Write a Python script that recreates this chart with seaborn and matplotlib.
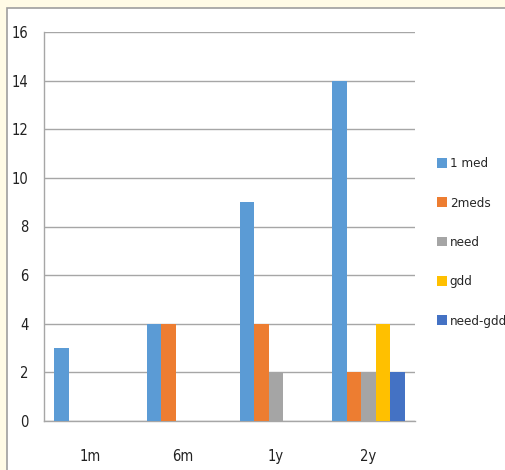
import numpy as np
import pandas as pd
import seaborn as sns
import matplotlib
matplotlib.use("Agg")
import matplotlib.pyplot as plt
from matplotlib.patches import Rectangle, Patch

categories = ["1m", "6m", "1y", "2y"]
series_names = ["1 med", "2meds", "need", "gdd", "need-gdd"]
one_med = [3, 4, 9, 14]
two_meds = [0, 4, 4, 2]
need = [0, 0, 2, 2]
gdd = [0, 0, 0, 4]
need_gdd = [0, 0, 0, 2]
yticks = [0, 2, 4, 6, 8, 10, 12, 14, 16]

colors = ["#5B9BD5", "#ED7D31", "#A5A5A5", "#FFC000", "#4472C4"]

rows = []
for name, vals in zip(series_names, [one_med, two_meds, need, gdd, need_gdd]):
    for cat, v in zip(categories, vals):
        rows.append({"period": cat, "group": name, "count": v})
df = pd.DataFrame(rows)

sns.set_style("white")
plt.rcParams["font.family"] = ["Liberation Sans Narrow", "DejaVu Sans"]
plt.rcParams["font.stretch"] = "condensed"

W, H = 506, 470
fig = plt.figure(figsize=(W / 100, H / 100), dpi=100)
fig.patch.set_facecolor("#FFFBE6")

# white chart panel with a gray frame
panel = Rectangle((7 / W, -0.05), 1.2, 1 - 8 / H + 0.05, transform=fig.transFigure,
                  facecolor="white", edgecolor="#9E9E9E", linewidth=1.2, zorder=-10)
fig.patches.append(panel)

ax = fig.add_axes([44 / W, 1 - 421 / H, 371 / W, (421 - 32) / H])
ax.set_zorder(5)
ax.set_facecolor("none")

sns.barplot(data=df, x="period", y="count", hue="group", order=categories,
            hue_order=series_names, palette=colors, width=0.78, gap=0,
            saturation=1, ax=ax, legend=False, zorder=3, linewidth=0)

ax.set_xlim(-0.5, 3.5)
ax.set_ylim(0, 16)
ax.set_yticks(yticks)
ax.set_yticklabels([str(t) for t in yticks], fontsize=10.5, color="#222222")
ax.yaxis.grid(True, color="#A6A6A6", linewidth=1.0, zorder=0)
ax.set_axisbelow(True)

ax.set_xticks(range(len(categories)))
ax.set_xticklabels(categories, fontsize=10.5, color="#222222")
ax.tick_params(axis="x", which="major", length=0, pad=20)
ax.set_xticks([-0.5, 0.5, 1.5, 2.5, 3.5], minor=True)
ax.tick_params(axis="x", which="minor", length=5, color="#A6A6A6", width=1)
ax.tick_params(axis="y", length=5, color="#A6A6A6", width=1, pad=6)
ax.set_xlabel("")
ax.set_ylabel("")

for s in ["top", "right"]:
    ax.spines[s].set_visible(False)
for s in ["left", "bottom"]:
    ax.spines[s].set_color("#A6A6A6")
    ax.spines[s].set_linewidth(1.0)

handles = [Patch(facecolor=c, edgecolor="none") for c in colors]
fig.legend(handles, series_names, loc="upper left",
           bbox_to_anchor=(432 / W, 1 - 152 / H), frameon=False,
           fontsize=9.5, handlelength=0.75, handleheight=0.75, handletextpad=0.2,
           labelspacing=2.0, borderaxespad=0)

fig.savefig("out.png", dpi=100, facecolor=fig.get_facecolor())
